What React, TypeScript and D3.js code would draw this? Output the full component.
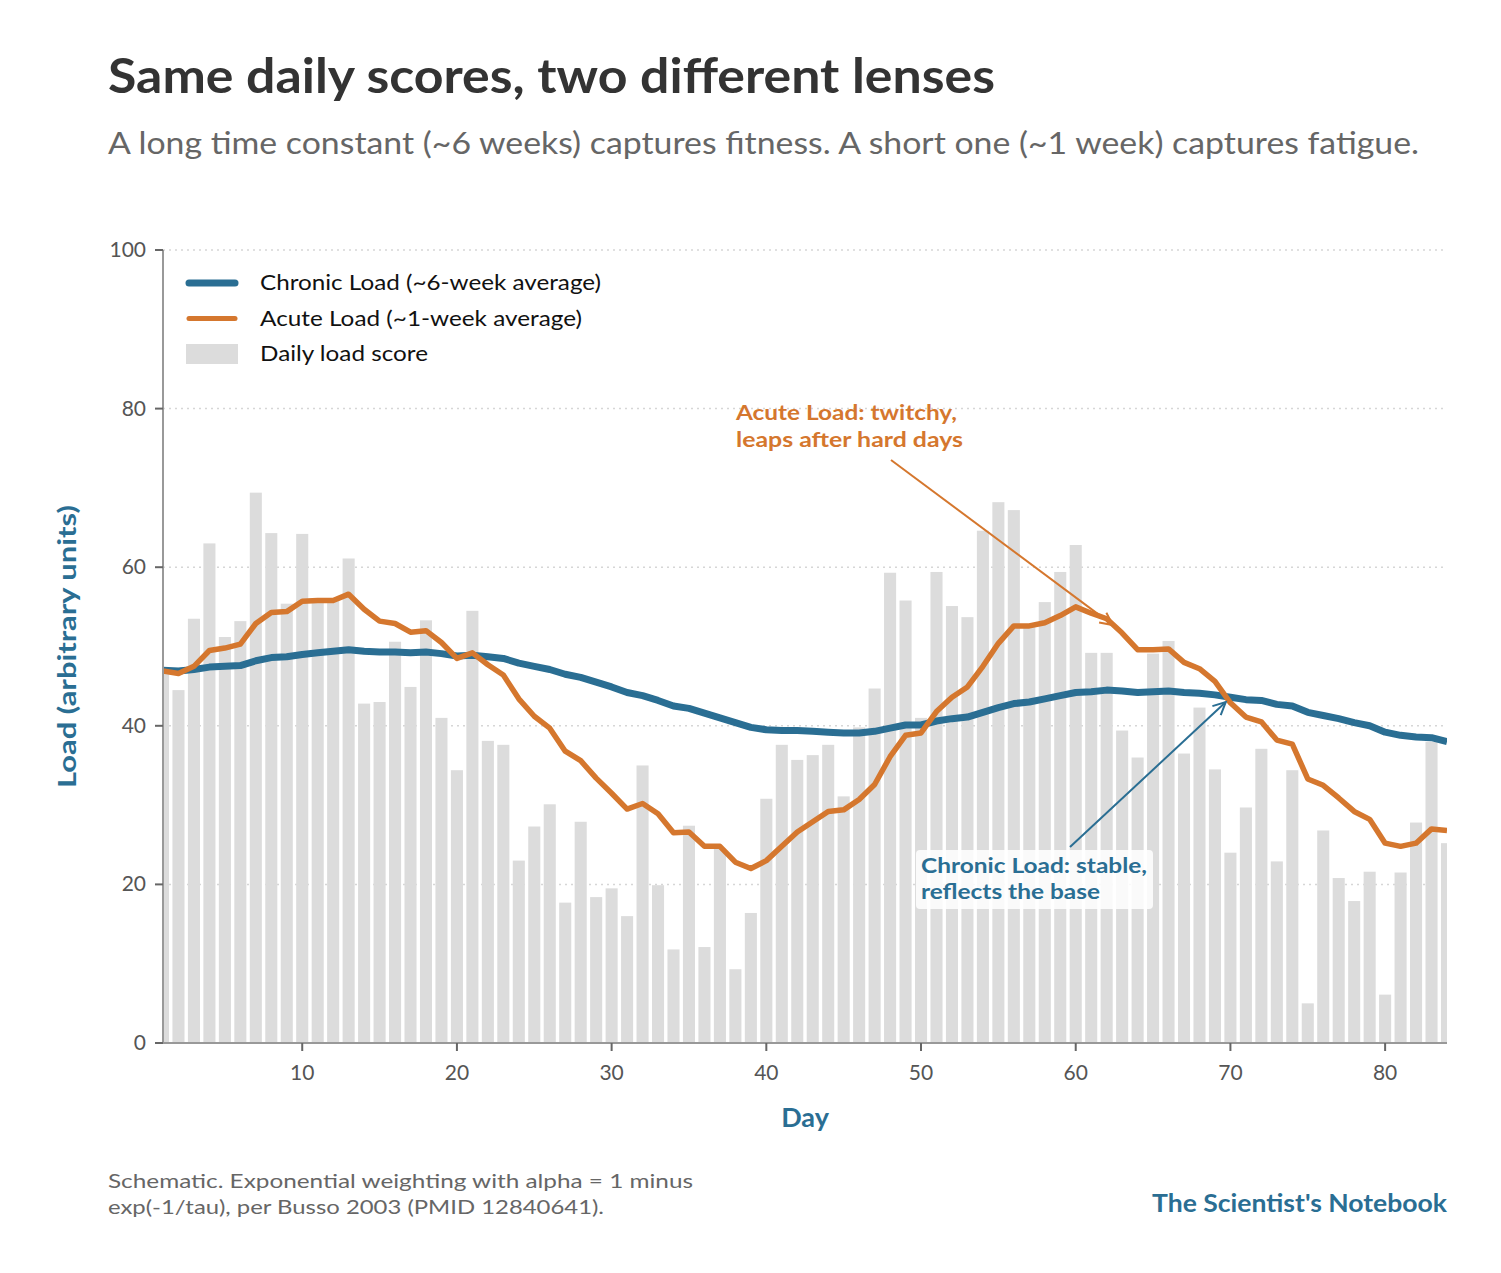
import React from "react";
import * as d3 from "d3";

// daily load score, days 1..84
const dailyLoad = [
  47.2, 44.5, 53.5, 63.0, 51.2, 53.2, 69.4, 64.3, 55.4, 64.2,
  55.6, 56.0, 61.1, 42.8, 43.0, 50.6, 44.9, 53.3, 41.0, 34.4,
  54.5, 38.1, 37.6, 23.0, 27.3, 30.1, 17.7, 27.9, 18.4, 19.5,
  16.0, 35.0, 19.9, 11.8, 27.4, 12.1, 24.5, 9.3, 16.4, 30.8,
  37.6, 35.7, 36.3, 37.6, 31.1, 39.8, 44.7, 59.3, 55.8, 41.0,
  59.4, 55.1, 53.7, 64.6, 68.2, 67.2, 52.5, 55.6, 59.4, 62.8,
  49.2, 49.2, 39.4, 36.0, 49.1, 50.7, 36.5, 42.3, 34.5, 24.0,
  29.7, 37.1, 22.9, 34.4, 5.0, 26.8, 20.8, 17.9, 21.6, 6.1,
  21.5, 27.8, 38.0, 25.2,
];

// ~6-week average
const chronicLoad = [
  47.0, 46.9, 47.1, 47.4, 47.5, 47.6, 48.2, 48.6, 48.7, 49.0,
  49.2, 49.4, 49.6, 49.4, 49.3, 49.3, 49.2, 49.3, 49.1, 48.8,
  48.9, 48.7, 48.5, 47.9, 47.5, 47.1, 46.5, 46.1, 45.5, 44.9,
  44.2, 43.8, 43.2, 42.5, 42.2, 41.6, 41.0, 40.4, 39.8, 39.5,
  39.4, 39.4, 39.3, 39.2, 39.1, 39.1, 39.3, 39.7, 40.1, 40.1,
  40.6, 40.9, 41.1, 41.7, 42.3, 42.8, 43.0, 43.4, 43.8, 44.2,
  44.3, 44.5, 44.4, 44.2, 44.3, 44.4, 44.2, 44.1, 43.9, 43.6,
  43.3, 43.2, 42.7, 42.5, 41.7, 41.3, 40.9, 40.4, 40.0, 39.2,
  38.8, 38.6, 38.5, 38.0,
];

// ~1-week average
const acuteLoad = [
  46.9, 46.6, 47.5, 49.5, 49.8, 50.3, 52.9, 54.3, 54.4, 55.7,
  55.8, 55.8, 56.6, 54.7, 53.2, 52.9, 51.8, 52.0, 50.5, 48.5,
  49.2, 47.7, 46.4, 43.4, 41.2, 39.7, 36.8, 35.6, 33.4, 31.5,
  29.5, 30.2, 28.9, 26.5, 26.6, 24.8, 24.8, 22.8, 22.0, 23.0,
  24.8, 26.6, 27.9, 29.2, 29.4, 30.7, 32.6, 36.1, 38.8, 39.1,
  41.8, 43.6, 44.9, 47.5, 50.4, 52.6, 52.6, 53.0, 53.9, 55.0,
  54.2, 53.5, 51.7, 49.6, 49.6, 49.7, 48.0, 47.2, 45.6, 42.9,
  41.1, 40.5, 38.2, 37.7, 33.3, 32.5, 30.9, 29.2, 28.2, 25.2,
  24.8, 25.2, 27.0, 26.8,
];

const days = dailyLoad.map((_, i) => i + 1);
const xTicks = [10, 20, 30, 40, 50, 60, 70, 80];
const yTicks = [0, 20, 40, 60, 80, 100];

const legendItems = [
  { label: "Chronic Load (~6-week average)", kind: "chronic", w: 341 },
  { label: "Acute Load (~1-week average)", kind: "acute", w: 322 },
  { label: "Daily load score", kind: "bar", w: 168 },
];

// where the annotation arrows point (day, load)
const acuteTarget = { day: 62.4, value: 52.7 };
const chronicTarget = { day: 69.7, value: 43.0 };

const BLUE = "#2a6e93";
const ORANGE = "#d5772e";
const BAR = "#dcdcdc";
const FONT = "Lato, 'Open Sans', sans-serif";

const W = 1501;
const H = 1273;
const left = 163;
const right = 1447;
const top = 250;
const bottom = 1043;

function Arrow({ x1, y1, x2, y2, color }: { x1: number; y1: number; x2: number; y2: number; color: string }) {
  const ang = Math.atan2(y2 - y1, x2 - x1);
  const len = 14;
  const spread = 0.45;
  const a1 = ang + Math.PI - spread;
  const a2 = ang + Math.PI + spread;
  const head = `M${x2 + len * Math.cos(a1)},${y2 + len * Math.sin(a1)}L${x2},${y2}L${x2 + len * Math.cos(a2)},${y2 + len * Math.sin(a2)}`;
  return (
    <g stroke={color} strokeWidth={2} fill="none">
      <line x1={x1} y1={y1} x2={x2} y2={y2} />
      <path d={head} />
    </g>
  );
}

export default function App() {
  const x = d3.scaleLinear().domain([1, 84]).range([left, right]);
  const y = d3.scaleLinear().domain([0, 100]).range([bottom, top]);
  const step = x(2) - x(1);
  const barW = step * 0.78;

  const line = d3
    .line<number>()
    .x((_, i) => x(days[i]))
    .y((d) => y(d));

  return (
    <svg width={W} height={H} style={{ position: "absolute", left: 0, top: 0, background: "#fff" }} fontFamily={FONT}>
      <defs>
        <clipPath id="plot">
          <rect x={left} y={top - 10} width={right - left} height={bottom - top + 10} />
        </clipPath>
      </defs>

      {/* title */}
      <text x={108} y={93} fontSize={47} fontWeight={700} fill="#333" textLength={887} lengthAdjust="spacingAndGlyphs">
        Same daily scores, two different lenses
      </text>
      <text x={108} y={154} fontSize={30} fill="#666" textLength={1311} lengthAdjust="spacingAndGlyphs">
        A long time constant (~6 weeks) captures fitness. A short one (~1 week) captures fatigue.
      </text>

      {/* grid */}
      {yTicks.filter((t) => t > 0).map((t) => (
        <line key={t} x1={left} x2={right} y1={y(t)} y2={y(t)} stroke="#d6d6d6" strokeWidth={1.5} strokeDasharray="2 4" />
      ))}

      {/* bars */}
      <g clipPath="url(#plot)">
        {dailyLoad.map((v, i) => (
          <rect key={i} x={x(days[i]) - barW / 2} y={y(v)} width={barW} height={y(0) - y(v)} fill={BAR} />
        ))}
        <path d={line(chronicLoad) || ""} fill="none" stroke={BLUE} strokeWidth={7} strokeLinejoin="round" />
        <path d={line(acuteLoad) || ""} fill="none" stroke={ORANGE} strokeWidth={5.5} strokeLinejoin="round" />
      </g>

      {/* axes */}
      <line x1={left} x2={left} y1={top} y2={bottom} stroke="#999" strokeWidth={2} />
      <line x1={left} x2={right} y1={bottom} y2={bottom} stroke="#999" strokeWidth={2} />
      {yTicks.map((t) => (
        <g key={t}>
          <line x1={left - 8} x2={left} y1={y(t)} y2={y(t)} stroke="#666" strokeWidth={2} />
          <text x={146} y={y(t) + 7} fontSize={21} fill="#555" textAnchor="end">{t}</text>
        </g>
      ))}
      {xTicks.map((t) => (
        <g key={t}>
          <line x1={x(t)} x2={x(t)} y1={bottom} y2={bottom + 8} stroke="#666" strokeWidth={2} />
          <text x={x(t)} y={1080} fontSize={21} fill="#555" textAnchor="middle">{t}</text>
        </g>
      ))}
      <text x={805} y={1127} fontSize={27} fontWeight={700} fill={BLUE} textAnchor="middle">Day</text>
      <text
        transform={`translate(76, ${(top + bottom) / 2}) rotate(-90)`}
        fontSize={25}
        fontWeight={700}
        fill={BLUE}
        textAnchor="middle"
        textLength={283}
        lengthAdjust="spacingAndGlyphs"
      >
        Load (arbitrary units)
      </text>

      {/* legend */}
      {legendItems.map((it, i) => {
        const cy = 283 + i * 35.5;
        return (
          <g key={it.kind}>
            {it.kind === "bar" ? (
              <rect x={186} y={cy - 10} width={52} height={20} fill={BAR} />
            ) : (
              <line x1={189} x2={235} y1={cy} y2={cy} stroke={it.kind === "chronic" ? BLUE : ORANGE}
                strokeWidth={it.kind === "chronic" ? 7 : 5} strokeLinecap="round" />
            )}
            <text x={260} y={cy + 7} fontSize={22} fill="#111" textLength={it.w} lengthAdjust="spacingAndGlyphs">{it.label}</text>
          </g>
        );
      })}

      {/* acute annotation */}
      <text fontSize={21} fontWeight={700} fill={ORANGE}>
        <tspan x={736} y={420} textLength={221} lengthAdjust="spacingAndGlyphs">Acute Load: twitchy,</tspan>
        <tspan x={736} y={447} textLength={227} lengthAdjust="spacingAndGlyphs">leaps after hard days</tspan>
      </text>
      <Arrow x1={891} y1={460} x2={x(acuteTarget.day)} y2={y(acuteTarget.value)} color={ORANGE} />

      {/* chronic annotation */}
      <Arrow x1={1070} y1={847} x2={x(chronicTarget.day)} y2={y(chronicTarget.value)} color={BLUE} />
      <rect x={916} y={850} width={237} height={59} rx={4} fill="#fff" fillOpacity={0.85} />
      <text fontSize={21} fontWeight={700} fill={BLUE}>
        <tspan x={921} y={873} textLength={226} lengthAdjust="spacingAndGlyphs">Chronic Load: stable,</tspan>
        <tspan x={921} y={899} textLength={179} lengthAdjust="spacingAndGlyphs">reflects the base</tspan>
      </text>

      {/* footer */}
      <text fontSize={20} fill="#666">
        <tspan x={108} y={1188} textLength={585} lengthAdjust="spacingAndGlyphs">Schematic. Exponential weighting with alpha = 1 minus</tspan>
        <tspan x={108} y={1214} textLength={496} lengthAdjust="spacingAndGlyphs">exp(-1/tau), per Busso 2003 (PMID 12840641).</tspan>
      </text>
      <text x={1447} y={1212} fontSize={24} fontWeight={700} fill={BLUE} textAnchor="end" textLength={295} lengthAdjust="spacingAndGlyphs">
        The Scientist's Notebook
      </text>
    </svg>
  );
}
